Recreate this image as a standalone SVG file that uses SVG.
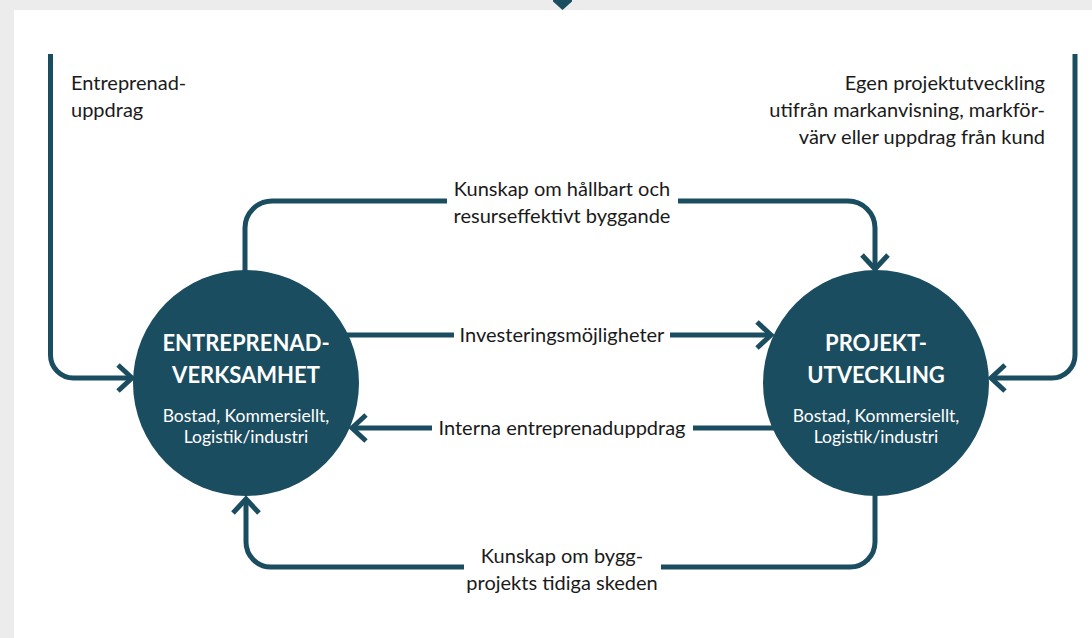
<svg xmlns="http://www.w3.org/2000/svg" width="1092" height="638" viewBox="0 0 1092 638">
<style>
.ln{fill:none;stroke:#1b4d60;stroke-width:5;stroke-linecap:butt;stroke-linejoin:round}
.ah{fill:none;stroke:#1b4d60;stroke-width:5;stroke-linecap:butt;stroke-linejoin:miter}
.lbl{font-family:Lato,"Liberation Sans",sans-serif;font-size:20px;fill:#1a1a1a}
.ttl{font-family:Lato,"Liberation Sans",sans-serif;font-size:22px;font-weight:bold;fill:#ffffff;text-anchor:middle}
.sub{font-family:Lato,"Liberation Sans",sans-serif;font-size:17.5px;fill:#ffffff;text-anchor:middle}
.node{fill:#1b4d60}
</style>
<rect x="0" y="0" width="1092" height="638" fill="#ececec"/>
<rect x="14" y="10" width="1078" height="628" fill="#ffffff"/>
<polygon points="553,0 572,0 572,1.5 562.5,10 553,1.5" fill="#1b4d60"/>

<g id="connectors">
  <!-- left entry -->
  <path class="ln" d="M50.5,54 V355 A23,23 0 0 0 73.5,378 H131"/>
  <path class="ah" d="M118,365 L132,378 L118,391"/>
  <!-- right entry -->
  <path class="ln" d="M1075,54 V355 A23,23 0 0 1 1052,378 H992"/>
  <path class="ah" d="M1005,365 L991,378 L1005,391"/>
  <!-- top -->
  <path class="ln" d="M245,272 V228 A27,27 0 0 1 272,201 H447"/>
  <path class="ln" d="M678,201 H848 A27,27 0 0 1 875,228 V268"/>
  <path class="ah" d="M862,255 L875,269 L888,255"/>
  <!-- investeringar -->
  <path class="ln" d="M345,335 H454"/>
  <path class="ln" d="M670,335 H770"/>
  <path class="ah" d="M757,322 L771,335 L757,348"/>
  <!-- interna -->
  <path class="ln" d="M780,428 H693"/>
  <path class="ln" d="M432,428 H353"/>
  <path class="ah" d="M366,415 L352,428 L366,441"/>
  <!-- bottom -->
  <path class="ln" d="M875,494 V542 A25,25 0 0 1 850,567 H661"/>
  <path class="ln" d="M464,567 H271 A25,25 0 0 1 246,542 V500"/>
  <path class="ah" d="M233,513 L246,499 L259,513"/>
</g>

<g id="label-entreprenaduppdrag">
  <text class="lbl" x="71" y="90">Entreprenad-</text>
  <text class="lbl" x="71" y="117">uppdrag</text>
</g>
<g id="label-egen">
  <text class="lbl" x="1045" y="90" text-anchor="end">Egen projektutveckling</text>
  <text class="lbl" x="1045" y="117" text-anchor="end">utifrån markanvisning, markför-</text>
  <text class="lbl" x="1045" y="144" text-anchor="end">värv eller uppdrag från kund</text>
</g>
<g id="label-top">
  <text class="lbl" x="562" y="196" text-anchor="middle">Kunskap om hållbart och</text>
  <text class="lbl" x="562" y="223" text-anchor="middle">resurseffektivt byggande</text>
</g>
<g id="label-invest">
  <text class="lbl" x="562" y="342" text-anchor="middle">Investeringsmöjligheter</text>
</g>
<g id="label-interna">
  <text class="lbl" x="562" y="435" text-anchor="middle">Interna entreprenaduppdrag</text>
</g>
<g id="label-bottom">
  <text class="lbl" x="562" y="563" text-anchor="middle">Kunskap om bygg-</text>
  <text class="lbl" x="562" y="590" text-anchor="middle">projekts tidiga skeden</text>
</g>

<g id="node-entreprenad">
  <circle class="node" cx="246" cy="383" r="113"/>
  <text class="ttl" x="246" y="351">ENTREPRENAD-</text>
  <text class="ttl" x="246" y="383">VERKSAMHET</text>
  <text class="sub" x="246" y="422">Bostad, Kommersiellt,</text>
  <text class="sub" x="246" y="443">Logistik/industri</text>
</g>
<g id="node-projekt">
  <circle class="node" cx="876" cy="383" r="113"/>
  <text class="ttl" x="876" y="351">PROJEKT-</text>
  <text class="ttl" x="876" y="383">UTVECKLING</text>
  <text class="sub" x="876" y="422">Bostad, Kommersiellt,</text>
  <text class="sub" x="876" y="443">Logistik/industri</text>
</g>
</svg>
